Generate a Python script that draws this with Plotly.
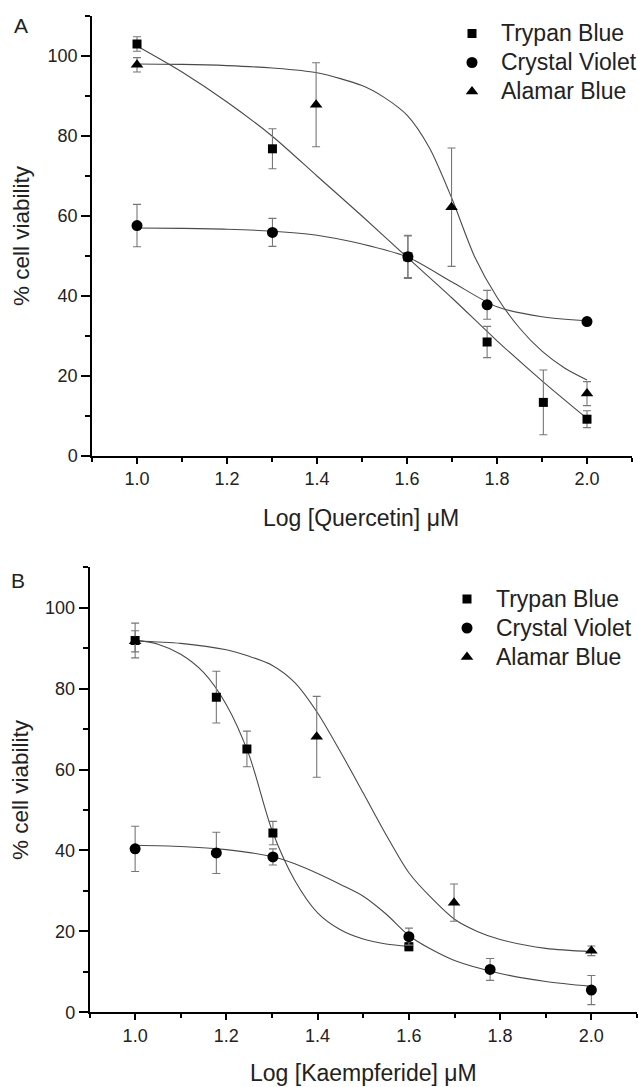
import plotly.graph_objects as go

# ---------------- Panel A : Quercetin ----------------
a_tb_x = [1.0, 1.301, 1.602, 1.778, 1.903, 2.0]
a_tb_y = [103.0, 76.8, 49.8, 28.5, 13.4, 9.2]
a_tb_e = [1.8, 5.0, 5.2, 3.9, 8.1, 2.1]

a_cv_x = [1.0, 1.301, 1.602, 1.778, 2.0]
a_cv_y = [57.6, 55.9, 49.8, 37.8, 33.6]
a_cv_e = [5.3, 3.5, 5.4, 3.6, 0.8]

a_ab_x = [1.0, 1.398, 1.699, 2.0]
a_ab_y = [97.8, 87.8, 62.2, 15.6]
a_ab_e = [1.8, 10.5, 14.8, 3.0]

# fitted curves
a_tb_fit_x = [1.0, 1.1, 1.2, 1.3, 1.4, 1.5, 1.6, 1.7, 1.8, 1.9, 2.0]
a_tb_fit_y = [102.5, 96.0, 88.5, 80.0, 70.0, 60.0, 49.7, 39.5, 28.8, 18.8, 9.4]
a_cv_fit_x = [1.0, 1.1, 1.2, 1.3, 1.4, 1.5, 1.6, 1.7, 1.8, 1.9, 2.0]
a_cv_fit_y = [57.0, 56.9, 56.7, 56.2, 55.2, 53.0, 49.8, 43.5, 37.3, 34.8, 33.8]
a_ab_fit_x = [1.0, 1.1, 1.2, 1.3, 1.4, 1.5, 1.55, 1.6, 1.65, 1.7, 1.75, 1.8, 1.85, 1.9, 1.95, 2.0]
a_ab_fit_y = [98.0, 97.9, 97.6, 97.0, 95.8, 92.6, 89.6, 85.2, 77.0, 64.3, 49.9, 39.7, 32.0, 26.2, 22.0, 19.0]

# ---------------- Panel B : Kaempferide ----------------
b_tb_x = [1.0, 1.178, 1.245, 1.302, 1.6]
b_tb_y = [91.9, 77.9, 65.1, 44.3, 16.2]
b_tb_e = [4.3, 6.4, 4.4, 2.9, 1.0]

b_cv_x = [1.0, 1.178, 1.302, 1.6, 1.778, 2.0]
b_cv_y = [40.4, 39.4, 38.4, 18.7, 10.6, 5.5]
b_cv_e = [5.6, 5.1, 2.0, 2.1, 2.7, 3.6]

b_ab_x = [1.0, 1.398, 1.699, 2.0]
b_ab_y = [91.7, 68.1, 27.1, 15.2]
b_ab_e = [2.6, 10.0, 4.6, 1.2]

b_tb_fit_x = [1.0, 1.05, 1.1, 1.15, 1.2, 1.25, 1.3, 1.35, 1.4, 1.45, 1.5, 1.55, 1.6]
b_tb_fit_y = [92.0, 91.0, 88.5, 84.0, 76.0, 63.5, 45.0, 32.6, 24.6, 20.4, 18.1, 16.9, 16.3]
b_cv_fit_x = [1.0, 1.1, 1.2, 1.3, 1.35, 1.4, 1.45, 1.5, 1.55, 1.6, 1.65, 1.7, 1.8, 1.9, 2.0]
b_cv_fit_y = [41.3, 41.0, 40.2, 38.5, 36.7, 34.3, 31.6, 28.7, 24.3, 19.0, 15.5, 12.8, 9.6, 7.6, 6.4]
b_ab_fit_x = [1.0, 1.1, 1.2, 1.25, 1.3, 1.35, 1.4, 1.45, 1.5, 1.55, 1.6, 1.65, 1.7, 1.75, 1.8, 1.9, 2.0]
b_ab_fit_y = [91.8, 91.2, 89.6, 88.0, 85.8, 81.5, 74.0, 64.4, 54.2, 43.9, 34.5, 28.2, 23.0, 20.0, 18.0, 15.8, 15.0]

series_names = ["Trypan Blue", "Crystal Violet", "Alamar Blue"]
symbols = ["square", "circle", "triangle-up"]
sizes = [9, 11, 11]

FONT = "Liberation Sans, Arial, Helvetica, sans-serif"
LINE_C = "#4a4a4a"
ERR_C = "#777777"

fig = go.Figure()

def add_panel(fits, pts, xa, ya, legend):
    for fx, fy in fits:
        fig.add_trace(go.Scatter(x=fx, y=fy, mode="lines",
                                 line=dict(color=LINE_C, width=1.1, shape="spline", smoothing=0.8),
                                 showlegend=False, hoverinfo="skip", xaxis=xa, yaxis=ya))
    for i, (px, py, pe) in enumerate(pts):
        fig.add_trace(go.Scatter(x=px, y=py, mode="markers",
                                 name='<span style="font-size:23px">' + series_names[i] + '</span>',
                                 marker=dict(symbol=symbols[i], size=sizes[i], color="black"),
                                 error_y=dict(type="data", array=pe, color=ERR_C, thickness=1.1, width=4),
                                 xaxis=xa, yaxis=ya, legend=legend))

add_panel([(a_tb_fit_x, a_tb_fit_y), (a_cv_fit_x, a_cv_fit_y), (a_ab_fit_x, a_ab_fit_y)],
          [(a_tb_x, a_tb_y, a_tb_e), (a_cv_x, a_cv_y, a_cv_e), (a_ab_x, a_ab_y, a_ab_e)],
          "x", "y", "legend")
add_panel([(b_tb_fit_x, b_tb_fit_y), (b_cv_fit_x, b_cv_fit_y), (b_ab_fit_x, b_ab_fit_y)],
          [(b_tb_x, b_tb_y, b_tb_e), (b_cv_x, b_cv_y, b_cv_e), (b_ab_x, b_ab_y, b_ab_e)],
          "x2", "y2", "legend2")

W, H = 638, 1087

xcommon = dict(range=[0.9, 2.1], tick0=1.0, dtick=0.2, tickformat=".1f", showline=True, linecolor="black",
               linewidth=1.5, ticks="outside", ticklen=6, tickwidth=1.5, tickcolor="black",
               showgrid=False, zeroline=False, tickfont=dict(size=18, color="#222"),
               minor=dict(ticks="outside", ticklen=4, tickwidth=1.5, tickcolor="black", tick0=0.9, dtick=0.1, showgrid=False))
ycommon = dict(range=[0, 110], tick0=0, dtick=20, showline=True, linecolor="black",
               linewidth=1.5, ticks="outside", ticklen=9, tickwidth=1.5, tickcolor="black",
               showgrid=False, zeroline=False, tickfont=dict(size=18, color="#222"),
               minor=dict(ticks="outside", ticklen=5, tickwidth=1.5, tickcolor="black", tick0=0, dtick=10, showgrid=False))

legcommon = dict(xanchor="left", yanchor="top", bgcolor="rgba(0,0,0,0)",
                 font=dict(size=20, color="#222"), tracegroupgap=0, itemsizing="trace", itemwidth=48)

fig.update_layout(
    width=W, height=H, margin=dict(l=0, r=0, t=0, b=0, autoexpand=False),
    paper_bgcolor="white", plot_bgcolor="white",
    font=dict(family=FONT, color="#222"),
    xaxis=dict(domain=[92 / W, 632 / W], anchor="y", **xcommon),
    yaxis=dict(domain=[1 - 456 / H, 1 - 16 / H], anchor="x", **ycommon),
    xaxis2=dict(domain=[89.5 / W, 637 / W], anchor="y2", **xcommon),
    yaxis2=dict(domain=[1 - 1012.3 / H, 1 - 567.3 / H], anchor="x2", **ycommon),
    legend=dict(x=443 / W, y=1 - 14 / H, **legcommon),
    legend2=dict(x=438 / W, y=1 - 579.5 / H, **legcommon),
    showlegend=True,
)

annots = [
    dict(text="A", x=21 / W, y=1 - 26 / H, font=dict(size=21)),
    dict(text="B", x=18 / W, y=1 - 580 / H, font=dict(size=21)),
    dict(text="Log [Quercetin] μM", x=361 / W, y=1 - 518 / H, font=dict(size=23)),
    dict(text="Log [Kaempferide] μM", x=363 / W, y=1 - 1073 / H, font=dict(size=23)),
    dict(text="% cell viability", x=22 / W, y=1 - 236 / H, font=dict(size=22.5), textangle=-90),
    dict(text="% cell viability", x=20 / W, y=1 - 790 / H, font=dict(size=22.5), textangle=-90),
]
for a in annots:
    fig.add_annotation(xref="paper", yref="paper", showarrow=False, xanchor="center", yanchor="middle",
                       font_family=FONT, font_color="#222", **a)

fig.write_html("out.html")
